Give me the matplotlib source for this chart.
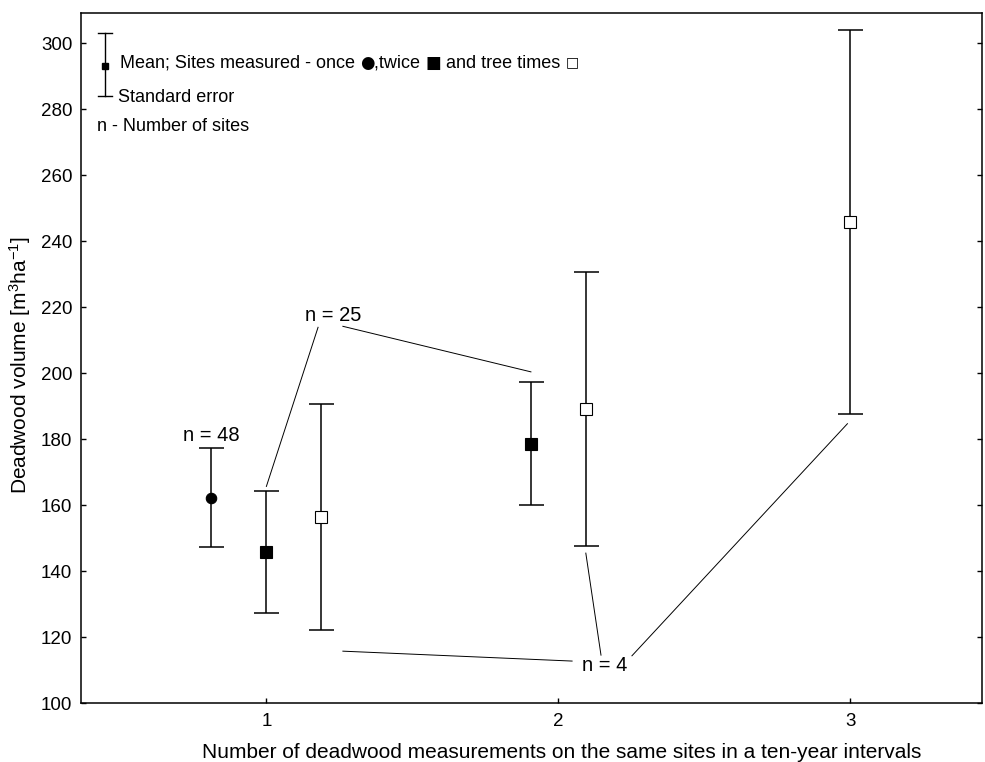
import matplotlib
matplotlib.use("Agg")
import matplotlib.pyplot as plt
from matplotlib.lines import Line2D
from matplotlib import font_manager

plt.rcParams['font.family'] = ['Liberation Sans', 'DejaVu Sans']

# Number of measurements on the same site (x categories)
measurement_ticks = [1, 2, 3]

# Sites grouped by how many times they were measured
series_names = ['once', 'twice', 'three times']
series_measurements = [[1], [1, 2], [1, 2, 3]]
series_means = [[162.3], [145.8, 178.7], [156.4, 189.1, 245.8]]
series_se = [[14.9], [18.4, 18.7], [34.2, 41.4, 58.1]]
sites_n = [48, 25, 4]

y_ticks = list(range(100, 301, 20))

markers = ['o', 's', 's']
facecolors = ['black', 'black', 'white']
marker_sizes = [7.5, 8, 8]
dodge = 0.188

# condensed face for the axis titles when it is available
names = {f.name for f in font_manager.fontManager.ttflist}
if 'Liberation Sans Narrow' in names:
    label_family, label_size = 'Liberation Sans Narrow', 17.5
else:
    label_family, label_size = 'Liberation Sans', 15
plt.rcParams['mathtext.fontset'] = 'custom'
plt.rcParams['mathtext.rm'] = label_family
plt.rcParams['mathtext.it'] = label_family

fig = plt.figure(figsize=(9.85, 7.62), dpi=100)
ax = fig.add_axes([0.0819, 0.077, 0.9148, 0.9055])

# horizontal position of every series mean, dodged within each measurement count
positions = []
for s, meas in enumerate(series_measurements):
    xs = []
    for m in meas:
        present = [i for i, mm in enumerate(series_measurements) if m in mm]
        k = len(present)
        idx = present.index(s)
        xs.append(m + (idx - (k - 1) / 2) * dodge)
    positions.append(xs)

for s in range(len(series_names)):
    ax.errorbar(positions[s], series_means[s], yerr=series_se[s], fmt='none',
                ecolor='black', elinewidth=1.1, capsize=9, capthick=1.1, zorder=2)
    ax.plot(positions[s], series_means[s], linestyle='none', marker=markers[s],
            markersize=marker_sizes[s], markerfacecolor=facecolors[s],
            markeredgecolor='black', markeredgewidth=0.8, zorder=3)

ax.set_xlim(0.364, 3.45)
ax.set_ylim(100, 309)
ax.set_xticks(measurement_ticks)
ax.set_yticks(y_ticks)
ax.tick_params(axis='both', direction='in', length=3.5, width=1, labelsize=13.5,
               colors='black')
ax.tick_params(axis='y', right=True, pad=6)
ax.tick_params(axis='x', pad=7)
for sp in ax.spines.values():
    sp.set_linewidth(1.1)

ax.set_xlabel('Number of deadwood measurements on the same sites in a ten-year intervals',
              fontsize=label_size, family=label_family)
ax.xaxis.set_label_coords(0.534, -0.058)
ax.set_ylabel('Deadwood volume [m$^3$ha$^{\\mathregular{-1}}$]', fontsize=label_size,
              family=label_family)
ax.yaxis.set_label_coords(-0.053, 0.49)

lw_ann = 0.7
n_size = 14.5
# n labels and leader lines
ax.text(positions[0][0], 181.2, f'n = {sites_n[0]}', ha='center', va='center', fontsize=n_size)

ax.text(1.228, 217.6, f'n = {sites_n[1]}', ha='center', va='center', fontsize=n_size)
t1 = series_means[1][0] + series_se[1][0]
t2 = series_means[1][1] + series_se[1][1]
ax.add_line(Line2D([1.177, positions[1][0]], [213.9, t1 + 1.5], color='black', lw=lw_ann))
ax.add_line(Line2D([1.262, positions[1][1]], [214.2, t2 + 3.0], color='black', lw=lw_ann))

ax.text(2.157, 111.6, f'n = {sites_n[2]}', ha='center', va='center', fontsize=n_size)
b1 = series_means[2][1] - series_se[2][1]
b2 = series_means[2][2] - series_se[2][2]
ax.add_line(Line2D([1.262, 2.047], [115.8, 112.8], color='black', lw=lw_ann))
ax.add_line(Line2D([positions[2][1], 2.146], [b1 - 2.2, 114.6], color='black', lw=lw_ann))
ax.add_line(Line2D([positions[2][2] - 0.01, 2.252], [b2 - 3.0, 114.4], color='black', lw=lw_ann))

# key in the upper-left corner
tr = ax.transAxes
ax.add_line(Line2D([0.027, 0.027], [0.880, 0.972], color='black', lw=1.0, transform=tr))
ax.add_line(Line2D([0.019, 0.035], [0.972, 0.972], color='black', lw=1.0, transform=tr))
ax.add_line(Line2D([0.019, 0.035], [0.880, 0.880], color='black', lw=1.0, transform=tr))
ax.add_line(Line2D([0.027], [0.9236], marker='s', markersize=5, color='black',
                   linestyle='none', transform=tr))
key_size = 13
key_parts = [('Mean; Sites measured - once ', 'Liberation Sans', key_size, 0),
             ('\u25CF', 'DejaVu Sans', 12, 0),
             (',twice ', 'Liberation Sans', key_size, 0),
             ('\u25A0', 'DejaVu Sans', 12, 0),
             (' and tree times ', 'Liberation Sans', key_size, 0),
             ('\u25A1', 'DejaVu Sans', 10, 0.4)]
prev = None
for text, fam, size, dy in key_parts:
    if prev is None:
        prev = ax.text(0.0436, 0.928, text, transform=tr, ha='left', va='center',
                       fontsize=size, family=fam)
    else:
        prev = ax.annotate(text, xy=(1, 0.5), xycoords=prev, xytext=(0, dy),
                           textcoords='offset points', ha='left', va='center',
                           fontsize=size, family=fam)
ax.text(0.0414, 0.8787, 'Standard error', transform=tr, ha='left', va='center', fontsize=key_size)
ax.text(0.018, 0.8367, 'n - Number of sites', transform=tr, ha='left', va='center', fontsize=key_size)

fig.savefig('out.png', dpi=100, facecolor='white')
